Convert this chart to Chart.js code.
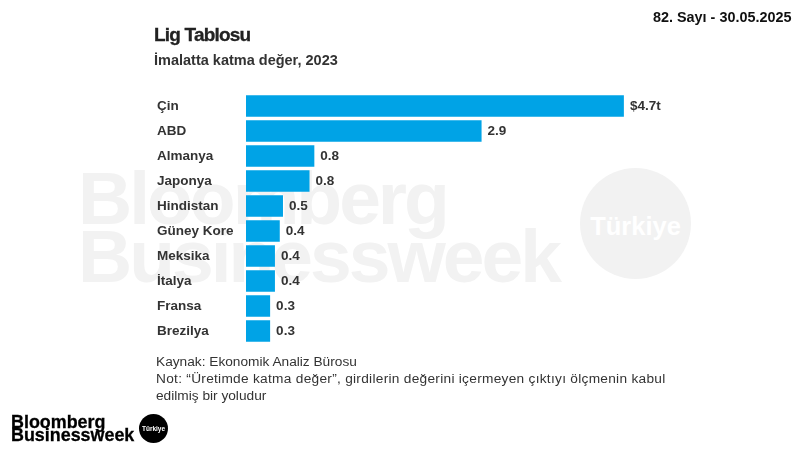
<!DOCTYPE html>
<html><head><meta charset="utf-8">
<script src="https://cdn.jsdelivr.net/npm/chart.js@4"></script>
<style>
html,body{margin:0;padding:0;background:#fff;width:800px;height:450px;overflow:hidden}
body{position:relative;font-family:"Liberation Sans",sans-serif}
canvas{position:absolute;left:0;top:0}
.t{position:absolute;white-space:nowrap}
</style></head><body>
<div class="t" style="left:78px;top:159px;font-size:75px;line-height:78px;font-weight:700;color:#f2f2f2;letter-spacing:-3px">Bloomberg</div>
<div class="t" style="left:78px;top:217px;font-size:75px;line-height:78px;font-weight:700;color:#f2f2f2;letter-spacing:-3px">Businessweek</div>
<div class="t" style="left:580px;top:168px;width:111px;height:111px;border-radius:50%;background:#f2f2f2"></div>
<div class="t" style="left:580px;top:171px;width:111px;line-height:111px;text-align:center;color:#fff;font-size:25.5px;font-weight:700">Türkiye</div>
<canvas id="c" width="800" height="450" style="width:800px;height:450px"></canvas>
<div class="t" style="left:154px;top:23px;font-size:19px;line-height:24px;font-weight:700;color:#222;letter-spacing:-.8px;-webkit-text-stroke:.3px #222">Lig Tablosu</div>
<div class="t" style="left:154px;top:51px;font-size:14.5px;line-height:18px;font-weight:700;color:#333">İmalatta katma değer, 2023</div>
<div class="t" style="left:653px;top:9px;font-size:14.4px;line-height:16px;font-weight:700;color:#111">82. Sayı - 30.05.2025</div>
<div class="t" style="left:156px;top:353px;font-size:13.7px;line-height:17px;color:#333">Kaynak: Ekonomik Analiz Bürosu<br><span style="letter-spacing:.28px">Not: “Üretimde katma değer”, girdilerin değerini içermeyen çıktıyı ölçmenin kabul</span><br>edilmiş bir yoludur</div>
<div class="t" style="left:11px;top:416px;font-size:17.9px;line-height:13px;font-weight:700;color:#000;-webkit-text-stroke:.3px #000">Bloomberg<br>Businessweek</div>
<div class="t" style="left:139px;top:414px;width:29px;height:29px;border-radius:50%;background:#000;color:#fff;font-size:6.5px;line-height:29px;text-align:center;font-weight:700">Türkiye</div>
<script>
const categories = ["Çin","ABD","Almanya","Japonya","Hindistan","Güney Kore","Meksika","İtalya","Fransa","Brezilya"];
const seriesValues = [4.7,2.93,0.85,0.79,0.46,0.42,0.36,0.36,0.3,0.3];
const valueLabels = ["$4.7t","2.9","0.8","0.8","0.5","0.4","0.4","0.4","0.3","0.3"];
const axisMax = 5.5;

const valueLabelPlugin = {
  id:'valueLabels',
  afterDatasetsDraw(chart){
    const ctx = chart.ctx;
    const meta = chart.getDatasetMeta(0);
    ctx.save();
    ctx.font = '700 13.5px "Liberation Sans"';
    ctx.fillStyle = '#333';
    ctx.textBaseline = 'middle';
    ctx.textAlign = 'left';
    meta.data.forEach((el,i)=>ctx.fillText(valueLabels[i], el.x+6, el.y));
    ctx.restore();
  }
};

new Chart(document.getElementById('c'),{
  type:'bar',
  data:{labels:categories,datasets:[{data:seriesValues,backgroundColor:'#00a3e6',borderWidth:0,barPercentage:0.86,categoryPercentage:1}]},
  options:{
    indexAxis:'y',responsive:false,animation:false,
    layout:{padding:{left:157,top:93.5,bottom:106.5,right:111.8}},
    plugins:{legend:{display:false},tooltip:{enabled:false}},
    scales:{
      x:{min:0,max:axisMax,display:false},
      y:{
        afterFit(s){s.width=89},
        border:{display:false},grid:{display:false},
        ticks:{crossAlign:'far',padding:0,autoSkip:false,color:'#333',font:{family:'"Liberation Sans"',size:13.5,weight:'700'}}
      }
    }
  },
  plugins:[valueLabelPlugin]
});
</script>
</body></html>
